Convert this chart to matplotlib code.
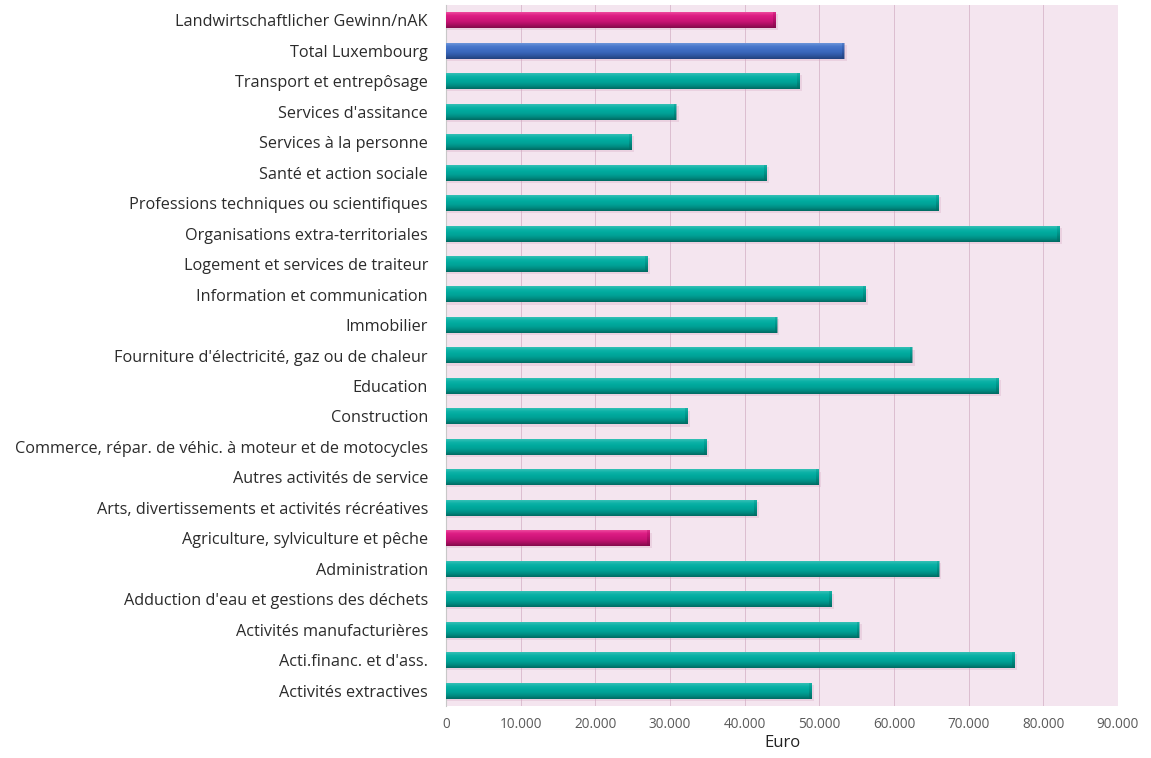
import numpy as np
import matplotlib
matplotlib.use("Agg")
import matplotlib.pyplot as plt
from matplotlib.colors import to_rgb

# Sectors listed top to bottom as displayed
sectors = [
    "Landwirtschaftlicher Gewinn/nAK",
    "Total Luxembourg",
    "Transport et entrepôsage",
    "Services d'assitance",
    "Services à la personne",
    "Santé et action sociale",
    "Professions techniques ou scientifiques",
    "Organisations extra-territoriales",
    "Logement et services de traiteur",
    "Information et communication",
    "Immobilier",
    "Fourniture d'électricité, gaz ou de chaleur",
    "Education",
    "Construction",
    "Commerce, répar. de véhic. à moteur et de motocycles",
    "Autres activités de service",
    "Arts, divertissements et activités récréatives",
    "Agriculture, sylviculture et pêche",
    "Administration",
    "Adduction d'eau et gestions des déchets",
    "Activités manufacturières",
    "Acti.financ. et d'ass.",
    "Activités extractives",
]

# Annual income per sector (Euro)
income = [
    44100, 53300, 47300, 30800, 24800, 42900, 65900, 82100, 27000,
    56200, 44300, 62400, 74000, 32300, 34900, 49900, 41600, 27200,
    66000, 51600, 55300, 76100, 48900,
]

# Colour group of each bar
group = [
    "agri", "total", "sector", "sector", "sector", "sector", "sector",
    "sector", "sector", "sector", "sector", "sector", "sector", "sector",
    "sector", "sector", "sector", "agri", "sector", "sector", "sector",
    "sector", "sector",
]

x_ticks = [0, 10000, 20000, 30000, 40000, 50000, 60000, 70000, 80000, 90000]
x_tick_labels = ["0", "10.000", "20.000", "30.000", "40.000", "50.000",
                 "60.000", "70.000", "80.000", "90.000"]

# Cylinder-like shading stops (top -> bottom) for each colour group
shades = {
    "sector": ["#35c0b6", "#0cb2a7", "#00aa9e", "#00a095", "#008a80", "#006a62"],
    "agri":   ["#ee4a9e", "#de1f85", "#d3177d", "#c71373", "#a80e60", "#830a4b"],
    "total":  ["#6c95da", "#4a78cc", "#3f6ec4", "#3865b8", "#2d549e", "#22417d"],
}


def gradient_image(stops, n=64):
    cols = np.array([to_rgb(c) for c in stops])
    pos = np.linspace(0, 1, len(cols))
    t = np.linspace(0, 1, n)
    img = np.stack([np.interp(t, pos, cols[:, k]) for k in range(3)], axis=1)
    return img[:, None, :]


plt.rcParams["font.family"] = ["Open Sans", "DejaVu Sans"]

fig = plt.figure(figsize=(11.51, 7.58), dpi=100)
ax = fig.add_axes([446 / 1151, 1 - 706 / 758, (1118 - 446) / 1151, (706 - 5) / 758])
ax.set_facecolor("#f4e5ef")

n = len(sectors)
ypos = np.arange(n)[::-1]
bar_h = 0.52

for y, v, g in zip(ypos, income, group):
    # soft shadow beneath the bar
    ax.barh(y - 0.07, v + 350, height=bar_h, left=0, color="#d3a3bf",
            alpha=0.3, zorder=2, linewidth=0)
    ax.imshow(gradient_image(shades[g]), extent=[0, v, y - bar_h / 2, y + bar_h / 2],
              origin="upper", aspect="auto", interpolation="bilinear", zorder=3)
    # slightly darker rounded cap at the bar end
    ax.imshow(gradient_image(shades[g][3:] + [shades[g][-1]]),
              extent=[v - 300, v, y - bar_h / 2, y + bar_h / 2],
              origin="upper", aspect="auto", interpolation="bilinear", zorder=3,
              alpha=0.45)

ax.set_xlim(0, 90000)
ax.set_ylim(-0.5, n - 0.5)

ax.set_xticks(x_ticks)
ax.set_xticklabels(x_tick_labels, fontsize=9.8, color="#5a5a5a")
ax.set_yticks(ypos)
ax.set_yticklabels(sectors, fontsize=11.7, color="#2b2b2b")
ax.tick_params(axis="both", length=0)
ax.tick_params(axis="y", pad=13)
ax.tick_params(axis="x", pad=8)

ax.grid(axis="x", color="#dcbdd0", linewidth=0.7, zorder=1)
ax.set_axisbelow(True)
for side in ("top", "right", "bottom"):
    ax.spines[side].set_visible(False)
ax.spines["left"].set_color("#c8c8c8")
ax.spines["left"].set_linewidth(0.8)

ax.set_xlabel("Euro", fontsize=12, color="#222222", labelpad=2)

fig.savefig("out.png", dpi=100, facecolor="white")
